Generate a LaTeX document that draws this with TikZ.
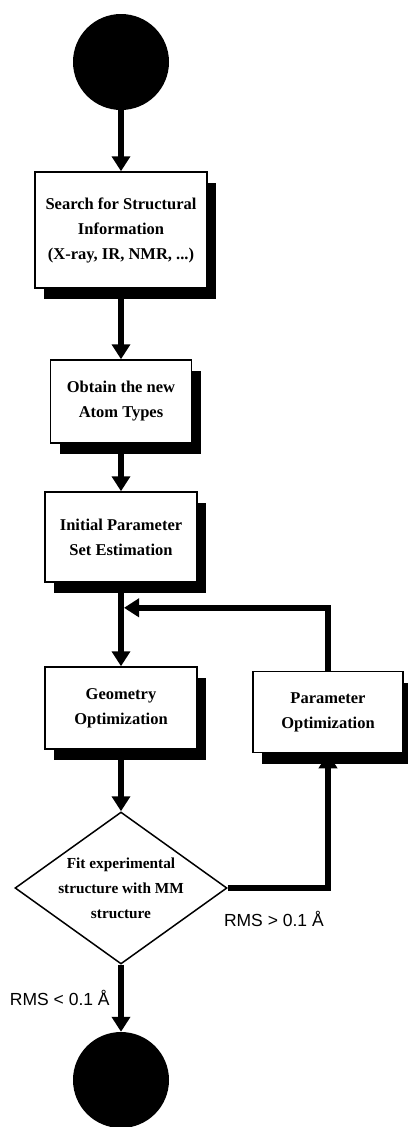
\documentclass[tikz,border=0pt]{standalone}
\usepackage{fontspec}
\setmainfont{Liberation Serif}
\newfontfamily\rmsfont{Liberation Sans}
\usetikzlibrary{calc,positioning,arrows.meta,shadows}
\usetikzlibrary{shapes.geometric}
\tikzset{
    >={Triangle[width=18pt,length=15pt]}, % big filled arrow heads
    x=1pt, y=1pt, % one unit is one pixel of the scan
    %every node/.style={draw}, % handy to see the node boxes
    stepbox/.style={draw, fill=white, line width=1.5pt, align=center,
        font=\fontsize{16.5}{25}\selectfont\bfseries,
        drop shadow={shadow xshift=9pt, shadow yshift=-11pt, fill=black, opacity=1}},
    blob/.style={circle, fill=black, minimum size=96pt}, % start and end points
    flow/.style={line width=6pt},
    rmslabel/.style={font=\rmsfont\fontsize{17.5}{17.5}\selectfont},
}

\begin{document}
\begin{tikzpicture}[on grid,auto]
      \useasboundingbox (0,0) rectangle (407,-1127);
      \node (q_start) [blob] at (121,-62) {};
      \node (q_search) [stepbox, node distance=168pt, below of=q_start, minimum width=172pt, minimum height=116pt] {Search for Structural\\Information\\(X-ray, IR, NMR, ...)};
      \node (q_atoms) [stepbox, node distance=171.5pt, below of=q_search, minimum width=141pt, minimum height=83pt] {Obtain the new\\Atom Types};
      \node (q_initial) [stepbox, node distance=135.5pt, below of=q_atoms, minimum width=152pt, minimum height=90pt] {Initial Parameter\\Set Estimation};
      \node (q_geomopt) [stepbox, node distance=171pt, below of=q_initial, minimum width=152pt, minimum height=82pt] {Geometry\\Optimization};
      \node (q_paramopt) [stepbox, node distance=207pt, right of=q_geomopt, yshift=-4pt, minimum width=150pt, minimum height=81pt] {Parameter\\Optimization};
      \node (q_fit) [diamond, draw, line width=1.5pt, node distance=180pt, below of=q_geomopt, minimum width=212pt, minimum height=152pt, aspect=1.4, inner sep=-4pt, align=center, font=\fontsize{15.3}{25}\selectfont\bfseries] {Fit experimental\\structure with MM\\structure};
      \node (q_stop) [blob, node distance=192pt, below of=q_fit] {};

      \coordinate (q_join) at ($(q_initial.south)!0.3!(q_geomopt.north)$);

      \path[->, flow]
      (q_start)     edge  node {} (q_search)
      (q_search)    edge  node {} (q_atoms)
      (q_atoms)     edge  node {} (q_initial)
      (q_initial)   edge  node {} (q_geomopt)
      (q_geomopt)   edge  node {} (q_fit)
      (q_fit)       edge  node [swap, rmslabel, xshift=-5pt] {RMS < 0.1 Å} (q_stop)
      ;
      \draw[->, flow] (q_paramopt.north) |- ([xshift=3pt]q_join);
      \draw[->, flow] (q_fit.east) -| node [pos=0.25, below=17pt, xshift=-4pt, rmslabel] {RMS > 0.1 Å} (q_paramopt.south);
    \end{tikzpicture}
\end{document}
